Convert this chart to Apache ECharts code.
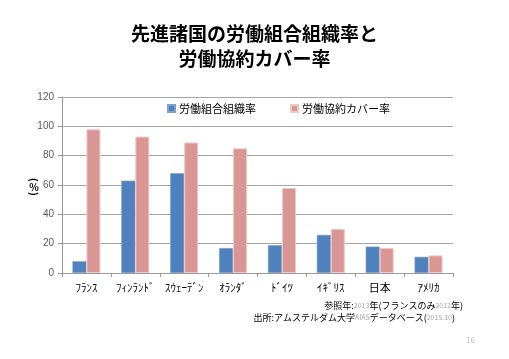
<!DOCTYPE html>
<html><head><meta charset="utf-8">
<script src="https://cdn.jsdelivr.net/npm/echarts@6/dist/echarts.min.js"></script>
<style>html,body{margin:0;padding:0;background:#fff}#c{width:509px;height:359px}</style>
</head><body><div id="c"></div>
<script>
const categories = ['ﾌﾗﾝｽ','ﾌｨﾝﾗﾝﾄﾞ','ｽｳｪｰﾃﾞﾝ','ｵﾗﾝﾀﾞ','ﾄﾞｲﾂ','ｲｷﾞﾘｽ','日本','ｱﾒﾘｶ'];
const unionRate = [8, 63, 68, 17, 19, 26, 18, 11];
const coverageRate = [98, 93, 89, 85, 58, 30, 17, 12];
const seriesNames = ['労働組合組織率', '労働協約カバー率'];
const yTicks = {min: 0, max: 120, interval: 20};

const FONT = '"Noto Sans CJK JP", "Noto Sans", sans-serif';
const chart = echarts.init(document.getElementById('c'));
chart.setOption({
  animation: false,
  textStyle: {fontFamily: FONT},
  title: {
    text: '先進諸国の労働組合組織率と\n労働協約カバー率',
    left: 'center', top: 16,
    textStyle: {fontSize: 19, fontWeight: 'bold', color: '#000', lineHeight: 25, fontFamily: FONT}
  },
  legend: {
    left: 162, top: 98,
    itemWidth: 7, itemHeight: 7, itemGap: 34,
    icon: 'rect',
    textStyle: {fontSize: 11, color: '#000', fontFamily: FONT, padding: [0,0,0,-1]},
    data: seriesNames
  },
  grid: {left: 62, right: 56, top: 97, bottom: 86},
  xAxis: {
    type: 'category', data: categories,
    axisLine: {lineStyle: {color: '#999', width: 1}},
    axisTick: {show: true, length: 4, lineStyle: {color: '#999'}},
    axisLabel: {fontSize: 11, color: '#000', margin: 9, interval: 0, fontFamily: FONT}
  },
  yAxis: {
    type: 'value', min: yTicks.min, max: yTicks.max, interval: yTicks.interval,
    axisLine: {show: true, lineStyle: {color: '#999'}},
    axisTick: {show: true, length: 4, lineStyle: {color: '#999'}},
    axisLabel: {fontSize: 10, color: '#595959', margin: 8, fontFamily: '"Liberation Sans", Arial, sans-serif'},
    splitLine: {lineStyle: {color: '#a6a6a6', width: 1}}
  },
  series: [
    {name: seriesNames[0], type: 'bar', data: unionRate, barWidth: 14, barGap: '0%',
     itemStyle: {color: '#4f81bd', borderColor: '#7ea2d0', borderWidth: 0.6}},
    {name: seriesNames[1], type: 'bar', data: coverageRate, barWidth: 14,
     itemStyle: {color: '#d99694', borderColor: '#f0c8c6', borderWidth: 1}}
  ],
  graphic: [
    {type: 'text', x: 34, y: 180, rotation: -Math.PI / 2, style: {text: '(', fontSize: 10, fill: '#000', align: 'center', verticalAlign: 'middle', fontFamily: FONT, fontWeight: 'bold'}},
    {type: 'text', x: 34, y: 187, style: {text: '%', fontSize: 10, fill: '#000', align: 'center', verticalAlign: 'middle', fontFamily: FONT, fontWeight: 'bold'}},
    {type: 'text', x: 34, y: 194, rotation: -Math.PI / 2, style: {text: ')', fontSize: 10, fill: '#000', align: 'center', verticalAlign: 'middle', fontFamily: FONT, fontWeight: 'bold'}},
    {type: 'text', right: 46, top: 301, style: {
      text: '{b|参照年:}{g|2013}{b|年(フランスのみ}{g|2012}{b|年)}',
      rich: {b: {fontSize: 9, fill: '#000', fontFamily: FONT}, g: {fontSize: 7, fill: '#a6a6a6', fontFamily: FONT}}
    }},
    {type: 'text', right: 54, top: 313, style: {
      text: '{b|出所:アムステルダム大学}{g|AIAS}{b|データベース(}{g|2015.10}{b|)}',
      rich: {b: {fontSize: 9, fill: '#000', fontFamily: FONT}, g: {fontSize: 7, fill: '#a6a6a6', fontFamily: FONT}}
    }},
    {type: 'text', left: 466, top: 336, style: {text: '16', fontSize: 8, fill: '#bfbfbf', fontFamily: FONT}}
  ]
});
</script></body></html>
